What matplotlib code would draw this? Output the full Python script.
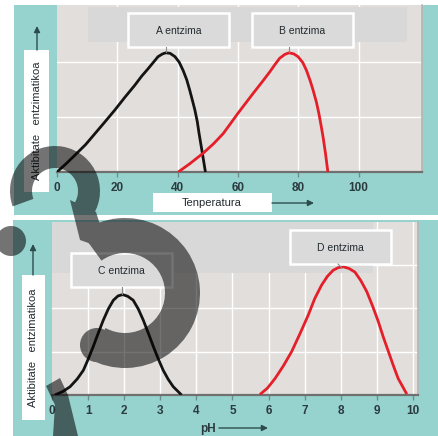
import numpy as np
import matplotlib
matplotlib.use("Agg")
import matplotlib.pyplot as plt
from matplotlib.patches import Rectangle, Wedge, Circle, Polygon, PathPatch
from matplotlib.path import Path

plt.rcParams['font.family'] = ['Liberation Sans', 'DejaVu Sans']

# ---------------- data ----------------
temp_ticks = [0, 20, 40, 60, 80, 100]
ph_ticks = [0, 1, 2, 3, 4, 5, 6, 7, 8, 9, 10]

a_temp = [0, 3, 6, 9.5, 12.6, 16, 19.2, 22.5, 25.8, 28, 30.2, 32, 33.5, 35, 36.1, 37.5,
          39.1, 40.5, 41.8, 43, 44, 45, 45.7, 46.5, 47.1, 48.2, 49.2]
a_act = [0, 0.15, 0.31, 0.5, 0.70, 0.92, 1.13, 1.36, 1.58, 1.74, 1.88, 2.0, 2.10, 2.15, 2.17, 2.16,
         2.10, 2.0, 1.85, 1.68, 1.49, 1.28, 1.13, 0.92, 0.70, 0.34, 0]

b_temp = [40.2, 44, 48.4, 52, 55.1, 57.5, 60, 62.5, 65, 68, 70.5, 72.3, 73.8, 75.5, 76.9, 78.5,
          79.9, 81.5, 82.7, 84, 84.9, 86, 86.8, 87.5, 88.2, 89, 89.8]
b_act = [0, 0.15, 0.34, 0.52, 0.70, 0.88, 1.07, 1.25, 1.43, 1.64, 1.82, 1.96, 2.07, 2.14, 2.17, 2.15,
         2.10, 1.99, 1.85, 1.65, 1.49, 1.27, 1.07, 0.86, 0.64, 0.34, 0]

c_ph = [0.08, 0.3, 0.5, 0.7, 0.87, 1.0, 1.14, 1.28, 1.42, 1.56, 1.70, 1.83, 1.96, 2.1, 2.25, 2.39,
        2.53, 2.67, 2.81, 2.95, 3.08, 3.22, 3.36, 3.59]
c_act = [0, 0.08, 0.19, 0.37, 0.57, 0.82, 1.11, 1.42, 1.72, 1.98, 2.18, 2.28, 2.31, 2.27, 2.18, 1.98,
         1.72, 1.42, 1.11, 0.82, 0.57, 0.36, 0.19, 0]

d_ph = [5.76, 5.97, 6.18, 6.41, 6.64, 6.87, 7.10, 7.28, 7.47, 7.63, 7.79, 7.93, 8.07, 8.23, 8.39,
        8.55, 8.72, 8.88, 9.04, 9.18, 9.32, 9.46, 9.59, 9.83]
d_act = [0.01, 0.16, 0.38, 0.67, 1.0, 1.41, 1.84, 2.22, 2.53, 2.73, 2.87, 2.93, 2.95, 2.91, 2.83,
         2.64, 2.38, 2.05, 1.69, 1.33, 1.0, 0.67, 0.38, 0.02]

labels_top = ["A entzima", "B entzima"]
labels_bot = ["C entzima", "D entzima"]
ylabel = "Aktibitate   entzimatikoa"
xlabel_top = "Tenperatura"
xlabel_bot = "pH"

# ---------------- styling ----------------
W, H = 438, 436
TEAL = '#97d3ce'
PLOTBG = '#e2dedb'
BAND = '#d8d8d8'
TXT = '#222a2e'
TICKC = '#2a3a3e'
BLACK = '#141414'
RED = '#e41f2a'

fig = plt.figure(figsize=(W / 100, H / 100), dpi=100, facecolor='white')


def rect(x0, y0, x1, y1):
    return [x0 / W, 1 - y1 / H, (x1 - x0) / W, (y1 - y0) / H]


# background
bg = fig.add_axes([0, 0, 1, 1], zorder=0)
bg.set_xlim(0, W)
bg.set_ylim(H, 0)
bg.axis('off')
bg.add_patch(Rectangle((14, 5), W - 14, 210, color=TEAL, lw=0))
bg.add_patch(Rectangle((13, 220), W - 13, H - 220, color=TEAL, lw=0))


def style_axes(ax, ticks):
    ax.set_facecolor(PLOTBG)
    for s in ['left', 'top']:
        ax.spines[s].set_visible(False)
    ax.spines['right'].set_color('#b8b4b2')
    ax.spines['right'].set_linewidth(1.2)
    ax.spines['bottom'].set_color('#707070')
    ax.spines['bottom'].set_linewidth(1.6)
    ax.set_yticks([])
    ax.set_xticks(ticks)
    ax.set_xticklabels([str(t) for t in ticks], fontsize=8.5, fontweight='bold', color=TICKC)
    ax.tick_params(axis='x', direction='out', length=3.5, width=1, color='#6f8f8c', pad=4)


line_kw = dict(lw=2.0, zorder=3, solid_capstyle='butt', solid_joinstyle='round')

# ---------------- top panel ----------------
ax1 = fig.add_axes(rect(57, 5, 422, 172), zorder=1)
style_axes(ax1, temp_ticks)
ax1.set_xlim(0, 121)
ax1.set_ylim(0, 3.04)
for t in temp_ticks[1:]:
    ax1.axvline(t, color='white', lw=1.0, zorder=1)
for g in [1, 2]:
    ax1.axhline(g, color='white', lw=1.0, zorder=1)
ax1.add_patch(Rectangle((10.3, 2.36), 105.6, 0.64, color=BAND, lw=0, zorder=1.5))
ax1.plot(a_temp, a_act, color=BLACK, **line_kw)
ax1.plot(b_temp, b_act, color=RED, **line_kw)

# ---------------- bottom panel ----------------
ax2 = fig.add_axes(rect(52, 222, 418, 395), zorder=1)
style_axes(ax2, ph_ticks)
ax2.set_xlim(0, 10.14)
ax2.set_ylim(0, 3.98)
for t in ph_ticks[1:]:
    ax2.axvline(t, color='white', lw=1.0, zorder=1)
for g in [1, 2, 3]:
    ax2.axhline(g, color='white', lw=1.0, zorder=1)
ax2.add_patch(Rectangle((0, 2.8), 8.9, 1.2, color=BAND, lw=0, zorder=1.5))
ax2.plot(c_ph, c_act, color=BLACK, **line_kw)
ax2.plot(d_ph, d_act, color=RED, **line_kw)

# ---------------- overlay (labels, arrows) ----------------
ov = fig.add_axes([0, 0, 1, 1], zorder=5)
ov.set_xlim(0, W)
ov.set_ylim(H, 0)
ov.axis('off')
ov.patch.set_alpha(0)


def label_box(x0, y0, x1, y1, txt):
    ov.add_patch(Rectangle((x0, y0), x1 - x0, y1 - y0, facecolor='#dadada',
                           edgecolor='white', lw=1.8, zorder=2))
    ov.text((x0 + x1) / 2, (y0 + y1) / 2 + 0.5, txt, ha='center', va='center',
            fontsize=7.5, color=TXT, zorder=3)


label_box(128, 13, 229, 47, labels_top[0])
label_box(252, 13, 353, 47, labels_top[1])
label_box(71, 253, 172, 287, labels_bot[0])
label_box(290, 230, 391, 264, labels_bot[1])
ov.plot([166, 166], [47, 52], color='#8a8a8a', lw=0.8, zorder=2)
ov.plot([289, 289], [47, 52], color='#8a8a8a', lw=0.8, zorder=2)
ov.plot([122, 122], [287, 294], color='#8a8a8a', lw=0.8, zorder=2)
ov.plot([338, 342], [264, 268], color='#8a8a8a', lw=0.8, zorder=2)

# y labels
for (x0, y0, x1, y1, ax_x, ay0, ay1) in [(24, 50, 49, 192, 37, 50, 26),
                                          (22, 275, 45, 420, 33, 275, 244)]:
    ov.add_patch(Rectangle((x0, y0), x1 - x0, y1 - y0, facecolor='white', lw=0, zorder=2))
    ov.text((x0 + x1) / 2, (y0 + y1) / 2, ylabel, rotation=90, ha='center', va='center',
            fontsize=8, color=TXT, zorder=3)
    ov.annotate('', xy=(ax_x, ay1), xytext=(ax_x, ay0),
                arrowprops=dict(arrowstyle='-|>', color='#2c4c4c', lw=1.0,
                                mutation_scale=9, shrinkA=0, shrinkB=0), zorder=3)

# x labels
ov.add_patch(Rectangle((153, 193), 119, 19, facecolor='white', lw=0, zorder=2))
ov.text(212, 203, xlabel_top, ha='center', va='center', fontsize=8, color=TXT, zorder=3)
ov.annotate('', xy=(314, 203), xytext=(272, 203),
            arrowprops=dict(arrowstyle='-|>', color='#2c4c4c', lw=1.0,
                            mutation_scale=9, shrinkA=0, shrinkB=0), zorder=3)
ov.text(208, 429, xlabel_bot, ha='center', va='center', fontsize=8.5, fontweight='bold',
        color=TICKC, zorder=3)
ov.annotate('', xy=(268, 428), xytext=(219, 428),
            arrowprops=dict(arrowstyle='-|>', color='#2c4c4c', lw=1.0,
                            mutation_scale=9, shrinkA=0, shrinkB=0), zorder=3)

# ---------------- watermark glyph (semi-transparent) ----------------
pieces = [
    Wedge((55, 191), 45, 160, 400, width=22),
    Wedge((125, 293), 75, 234, 479, width=35),
    Circle((11, 241), 15),
    Circle((97, 345), 17),
    Polygon([(70, 200), (96, 212), (108, 250), (80, 240)], closed=True),
    Polygon([(46, 386), (60, 378), (68, 395), (78, 436), (53, 436), (55, 405)], closed=True),
]
polys = []
for p in pieces:
    path = p.get_patch_transform().transform_path(p.get_path())
    for poly in path.to_polygons():
        x, y = poly[:, 0], poly[:, 1]
        area = 0.5 * np.sum(x * np.roll(y, -1) - np.roll(x, -1) * y)
        if area < 0:
            poly = poly[::-1]
        polys.append(poly)
verts, codes = [], []
for poly in polys:
    verts.extend(poly.tolist())
    codes.extend([Path.MOVETO] + [Path.LINETO] * (len(poly) - 1))
wm = PathPatch(Path(verts, codes), facecolor='black', edgecolor='none', alpha=0.55, zorder=10)
ov.add_patch(wm)

fig.savefig('out.png', dpi=100, facecolor='white')
